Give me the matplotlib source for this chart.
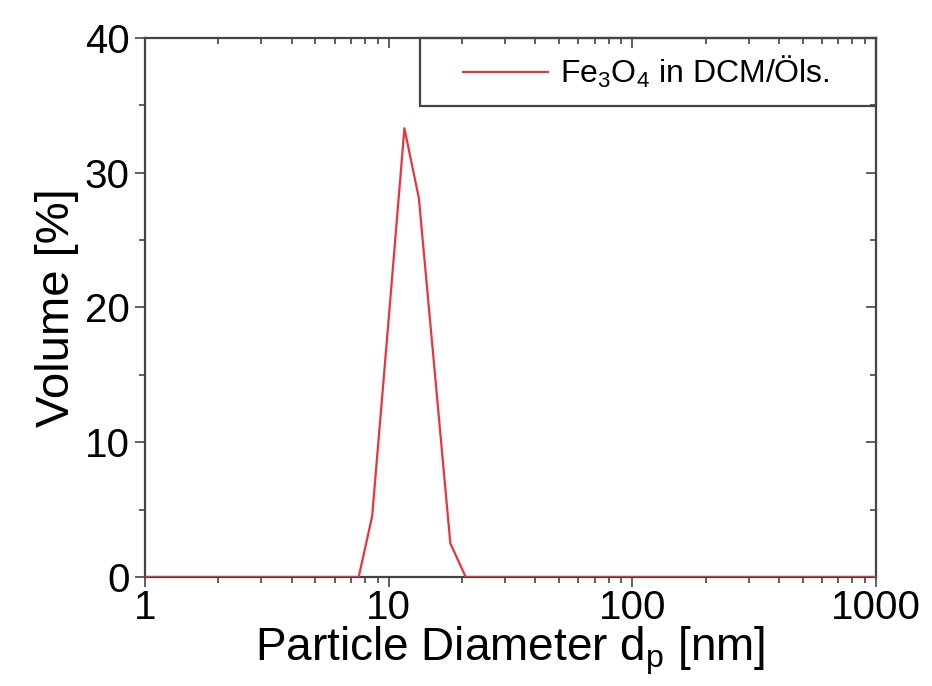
import matplotlib
matplotlib.use("Agg")
import matplotlib.pyplot as plt
from matplotlib.patches import Rectangle
from matplotlib.ticker import FixedLocator, MultipleLocator, LogLocator, NullFormatter

plt.rcParams['font.family'] = ['Liberation Sans', 'DejaVu Sans']
plt.rcParams['mathtext.fontset'] = 'custom'
plt.rcParams['mathtext.rm'] = 'Liberation Sans'
plt.rcParams['mathtext.it'] = 'Liberation Sans:italic'

# particle size distribution
diameter = [1, 7.53, 8.55, 9.95, 11.6, 13.3, 15.4, 17.9, 20.7, 1000]
volume = [0, 0, 4.5, 18.7, 33.3, 28.1, 15.5, 2.5, 0, 0]

x_ticks = [1, 10, 100, 1000]
x_ticklabels = ["1", "10", "100", "1000"]
y_ticks = [0, 10, 20, 30, 40]
label = "Fe$_\\mathregular{3}$O$_\\mathregular{4}$ in DCM/Öls."

fig = plt.figure(figsize=(9.32, 6.86), dpi=100)
ax = fig.add_axes([0.1556, 0.1589, 0.7844, 0.7857])

ax.plot(diameter, volume, color='#e8343c', lw=1.6, label=label, zorder=3)

ax.set_xscale('log')
ax.set_xlim(1, 1000)
ax.set_ylim(0, 40)
ax.xaxis.set_major_locator(FixedLocator(x_ticks))
ax.set_xticklabels(x_ticklabels)
ax.xaxis.set_minor_locator(LogLocator(base=10, subs=range(2, 10)))
ax.xaxis.set_minor_formatter(NullFormatter())
ax.set_yticks(y_ticks)
ax.yaxis.set_minor_locator(MultipleLocator(5))

for s in ax.spines.values():
    s.set_color('#444444')
    s.set_linewidth(1.6)

ax.tick_params(which='both', direction='out', top=False, right=False,
               colors='#444444', labelcolor='black', labelsize=29, width=1.2)
ax.tick_params(which='major', length=7, pad=2)
ax.tick_params(axis='y', which='major', pad=4)
ax.tick_params(which='minor', length=4)

# inward ticks on the top and right frame
ax2 = ax.secondary_xaxis('top')
ax2.set_xticks(x_ticks)
ax2.xaxis.set_minor_locator(LogLocator(base=10, subs=range(2, 10)))
ax2.tick_params(which='both', direction='in', labeltop=False, colors='#444444', width=1.2)
ax2.tick_params(which='major', length=7)
ax2.tick_params(which='minor', length=4)
ax3 = ax.secondary_yaxis('right')
ax3.set_yticks(y_ticks)
ax3.yaxis.set_minor_locator(MultipleLocator(5))
ax3.tick_params(which='both', direction='in', labelright=False, colors='#444444', width=1.2)
ax3.tick_params(which='major', length=7)
ax3.tick_params(which='minor', length=4)
for a in (ax2, ax3):
    for s in a.spines.values():
        s.set_visible(False)

ax.set_xlabel("Particle Diameter d$_\\mathregular{p}$ [nm]", fontsize=33, labelpad=-2)
ax.set_ylabel("Volume [%]", fontsize=34, labelpad=4)

# legend box
ax.add_patch(Rectangle((0.376, 0.874), 0.624, 0.126, transform=ax.transAxes,
                       fill=False, edgecolor='#444444', lw=1.6, zorder=4, clip_on=False))
ax.legend(loc='center left', bbox_to_anchor=(0.435, 0.937), frameon=False,
          borderpad=0, borderaxespad=0, handlelength=2.66, handletextpad=0.38,
          fontsize=23)

fig.savefig("out.png", dpi=100, facecolor='white')
